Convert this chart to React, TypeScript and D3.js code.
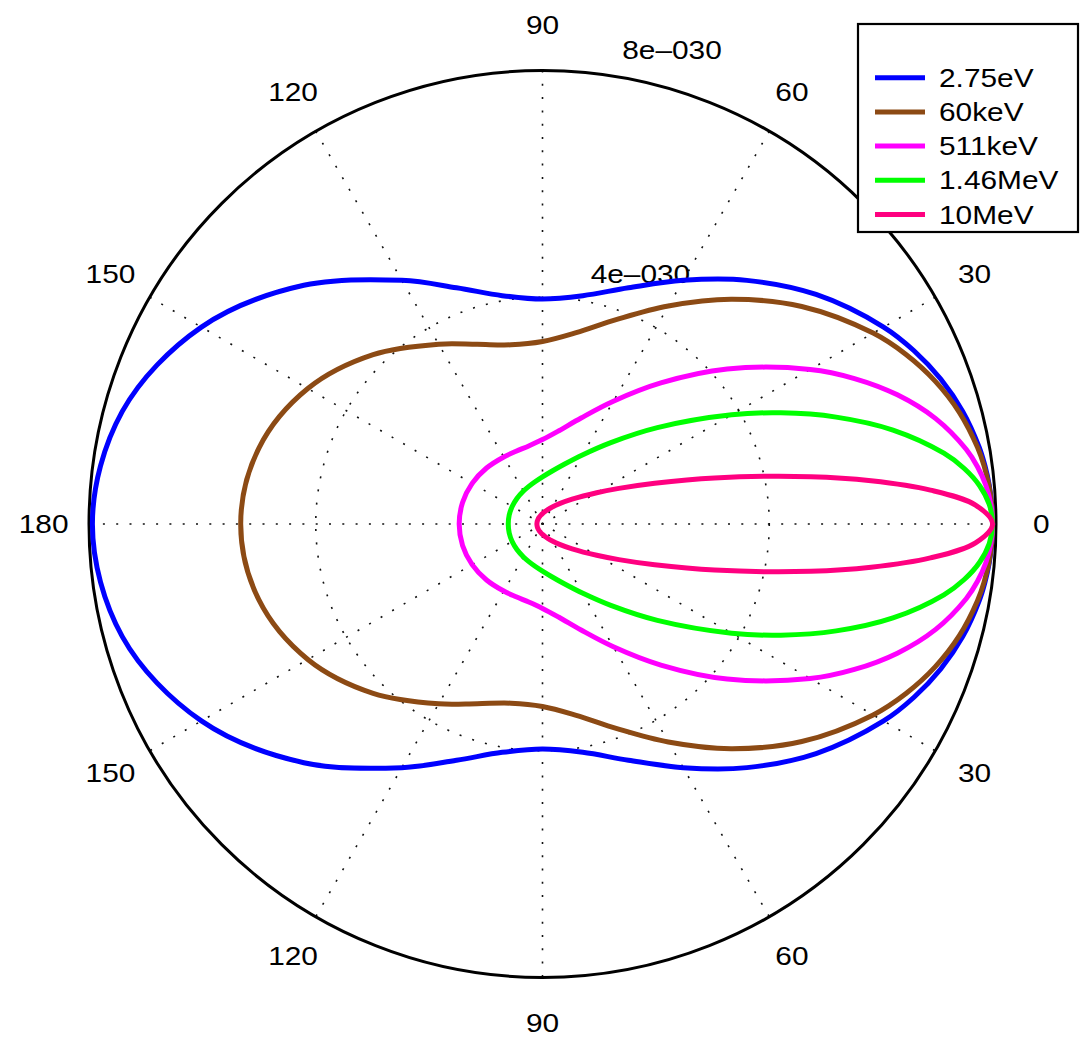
import React from "react";
import * as d3 from "d3";

// Polar angles (degrees) at which the scattering cross-sections were read; curves are mirror-symmetric about 0/180.
const ANGLES = [0, 2.5, 5, 7.5, 10, 15, 20, 25, 30, 40, 50, 60, 70, 80, 90, 100, 110, 120, 135, 150, 165, 180];

// Differential cross-section values in units of 1e-30 m^2/sr
const E_275eV = [7.94, 7.932, 7.91, 7.872, 7.82, 7.674, 7.476, 7.231, 6.948, 6.3, 5.61, 4.963, 4.434, 4.09, 3.97, 4.09, 4.434, 4.963, 5.955, 6.948, 7.674, 7.94];
const E_60keV = [7.94, 7.931, 7.903, 7.857, 7.792, 7.613, 7.371, 7.075, 6.735, 5.97, 5.174, 4.439, 3.84, 3.427, 3.219, 3.21, 3.373, 3.663, 4.225, 4.78, 5.179, 5.324];
const E_511keV = [7.94, 7.917, 7.85, 7.74, 7.589, 7.181, 6.662, 6.072, 5.452, 4.253, 3.248, 2.5, 1.99, 1.671, 1.489, 1.398, 1.365, 1.366, 1.396, 1.433, 1.46, 1.47];
const E_146MeV = [7.94, 7.889, 7.741, 7.504, 7.19, 6.401, 5.513, 4.639, 3.853, 2.645, 1.875, 1.407, 1.122, 0.945, 0.832, 0.757, 0.706, 0.671, 0.638, 0.618, 0.608, 0.604];
const E_10MeV = [7.94, 7.646, 6.869, 5.846, 4.807, 3.143, 2.106, 1.487, 1.104, 0.682, 0.468, 0.346, 0.269, 0.219, 0.184, 0.159, 0.141, 0.128, 0.114, 0.105, 0.1, 0.099];

const SERIES_NAMES = ["2.75eV", "60keV", "511keV", "1.46MeV", "10MeV"];
const SERIES_VALUES = [E_275eV, E_60keV, E_511keV, E_146MeV, E_10MeV];
const SERIES_COLORS = ["#0000ff", "#8c4a14", "#ff00ff", "#00ff00", "#ff0080"];

const SPOKE_ANGLES = [0, 30, 60, 90, 120, 150, 180, 210, 240, 270, 300, 330];
const SPOKE_LABELS = ["0", "30", "60", "90", "120", "150", "180", "150", "120", "90", "60", "30"];
const RING_VALUES = [4, 8];
const RING_LABELS = ["4e–030", "8e–030"];
const R_MAX = 8;

const W = 1082;
const H = 1037;
const CX = 542.5;
const CY = 524;
const RPX = 453.5;
const FONT = "'Liberation Sans', Arial, Helvetica, sans-serif";
const SX = 1.17;

export default function App() {
  const r = d3.scaleLinear().domain([0, R_MAX]).range([0, RPX]);
  const toXY = (val: number, deg: number): [number, number] => {
    const t = (deg * Math.PI) / 180;
    return [CX + r(val) * Math.cos(t), CY - r(val) * Math.sin(t)];
  };
  const lineGen = d3.line().curve(d3.curveCatmullRomClosed.alpha(0.5));

  const paths = SERIES_VALUES.map((vals) => {
    const pts: [number, number][] = [];
    for (let i = 0; i < ANGLES.length; i++) pts.push(toXY(vals[i], ANGLES[i]));
    for (let i = ANGLES.length - 2; i >= 1; i--) pts.push(toXY(vals[i], -ANGLES[i]));
    return lineGen(pts) as string;
  });

  const dash = "2 11.3";

  return (
    <svg
      width={W}
      height={H}
      style={{ position: "absolute", left: 0, top: 0, background: "#fff" }}
      fontFamily={FONT}
    >
      <rect x={0} y={0} width={W} height={H} fill="#fff" />
      {/* spokes */}
      {SPOKE_ANGLES.slice(0, 6).map((a) => {
        const [x1, y1] = toXY(R_MAX, a);
        const [x2, y2] = toXY(R_MAX, a + 180);
        return (
          <line key={"s" + a} x1={x1} y1={y1} x2={x2} y2={y2} stroke="#111" strokeWidth={1.6} strokeDasharray={dash} />
        );
      })}
      {/* rings */}
      {RING_VALUES.map((v) =>
        v < R_MAX ? (
          <circle key={"r" + v} cx={CX} cy={CY} r={r(v)} fill="none" stroke="#111" strokeWidth={1.6} strokeDasharray={dash} />
        ) : (
          <circle key={"r" + v} cx={CX} cy={CY} r={r(v)} fill="none" stroke="#000" strokeWidth={3} />
        )
      )}
      {/* ring labels */}
      {RING_VALUES.map((v, i) => {
        const [x, y] = toXY(v + 0.2, 82);
        return (
          <text key={"rl" + v} transform={`translate(${x + 15},${y - 5}) scale(${SX},1)`} fontSize={25.5} fill="#000">
            {RING_LABELS[i]}
          </text>
        );
      })}
      {/* angle labels */}
      {SPOKE_ANGLES.map((a, i) => {
        const [x, y] = toXY(R_MAX * 1.1, a);
        return (
          <text
            key={"al" + a}
            transform={`translate(${x},${y}) scale(${SX},1)`}
            fontSize={25.5}
            textAnchor="middle"
            dominantBaseline="central"
            fill="#000"
          >
            {SPOKE_LABELS[i]}
          </text>
        );
      })}
      {/* curves */}
      {paths.map((d, i) => (
        <path key={"p" + i} d={d} fill="none" stroke={SERIES_COLORS[i]} strokeWidth={5} strokeLinejoin="round" />
      ))}
      {/* legend */}
      <g>
        <rect x={858} y={24} width={220} height={208} fill="#fff" stroke="#000" strokeWidth={2.2} />
        {SERIES_NAMES.map((n, i) => {
          const y = 77.7 + i * 34.2;
          return (
            <g key={"lg" + i}>
              <line x1={875} x2={925} y1={y} y2={y} stroke={SERIES_COLORS[i]} strokeWidth={5} />
              <text transform={`translate(${939},${y + 9}) scale(${SX},1)`} fontSize={25.5} fill="#000">
                {n}
              </text>
            </g>
          );
        })}
      </g>
    </svg>
  );
}
